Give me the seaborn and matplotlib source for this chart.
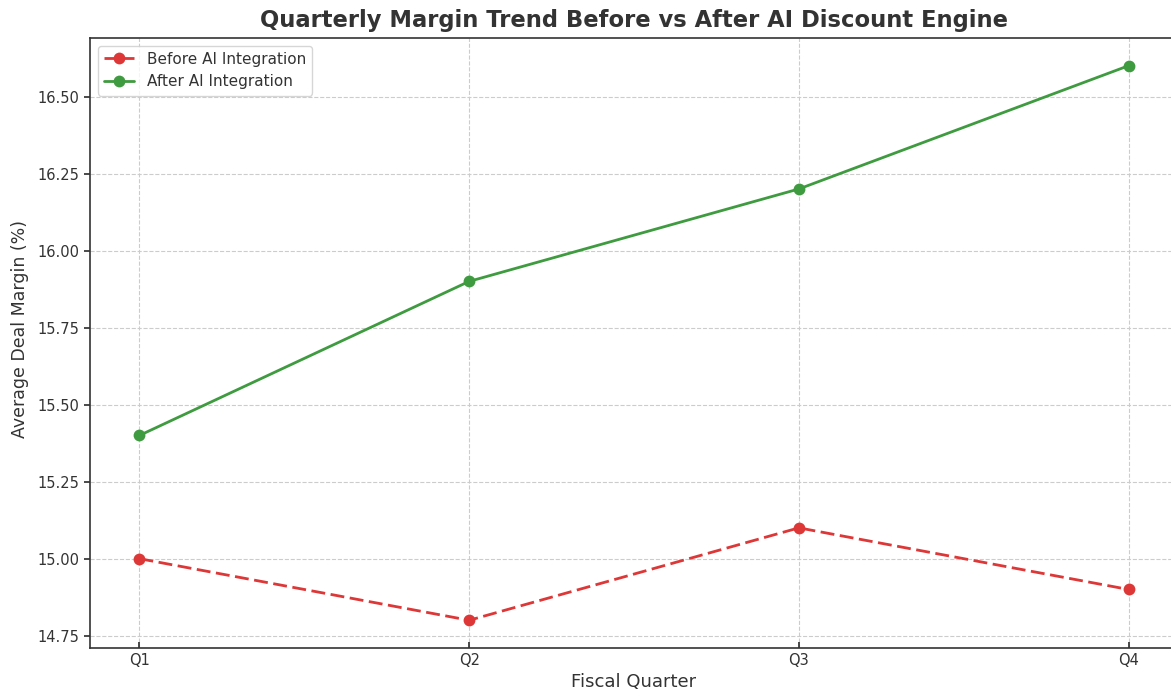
import matplotlib
matplotlib.use("Agg")
import matplotlib.pyplot as plt
import seaborn as sns
import pandas as pd

quarters = ["Q1", "Q2", "Q3", "Q4"]
before_ai = [15.0, 14.8, 15.1, 14.9]
after_ai = [15.4, 15.9, 16.2, 16.6]

df = pd.DataFrame({
    "Quarter": quarters * 2,
    "Margin": before_ai + after_ai,
    "Period": ["Before AI Integration"] * 4 + ["After AI Integration"] * 4,
})

sns.set_theme(style="whitegrid")
plt.rcParams["font.family"] = ["DejaVu Sans"]
text_color = "#333333"

fig = plt.figure(figsize=(11.71, 6.95), dpi=100)
ax = fig.add_axes([90 / 1171, 1 - 648 / 695, 1088 / 1171, 610 / 695])

palette = {"Before AI Integration": "#dd3737", "After AI Integration": "#3f9b3f"}
styles = {"Before AI Integration": (5, 2), "After AI Integration": ""}

sns.lineplot(
    data=df, x="Quarter", y="Margin", hue="Period", style="Period",
    palette=palette, dashes=styles, markers={"Before AI Integration": "o", "After AI Integration": "o"},
    markersize=8.5, markeredgewidth=0, linewidth=2, ax=ax, sort=False,
)

ax.set_title("Quarterly Margin Trend Before vs After AI Discount Engine",
             fontsize=16.3, fontweight="bold", color=text_color, pad=8)
ax.set_xlabel("Fiscal Quarter", fontsize=13, color=text_color)
ax.set_ylabel("Average Deal Margin (%)", fontsize=12.5, color=text_color)
ax.yaxis.set_label_coords(-0.056, 0.523)
ax.yaxis.set_major_formatter(matplotlib.ticker.FormatStrFormatter("%.2f"))
ax.set_yticks([14.75, 15.0, 15.25, 15.5, 15.75, 16.0, 16.25, 16.5])
ax.set_ylim(14.71, 16.69)
ax.set_xlim(-0.15, 3.15)

ax.grid(True, linestyle="--", color="#cccccc", linewidth=0.8)
for side in ["left", "bottom", "top"]:
    ax.spines[side].set_color("#333333")
    ax.spines[side].set_linewidth(1.2)
ax.spines["right"].set_visible(False)
ax.tick_params(axis="y", direction="out", length=4, labelsize=10.5, colors=text_color, left=True)
ax.tick_params(axis="x", direction="in", length=4, labelsize=10.5, colors=text_color, bottom=True)

leg = ax.legend(loc="upper left", fontsize=11, frameon=True, fancybox=True)
leg.get_frame().set_edgecolor("#cccccc")
for t in leg.get_texts():
    t.set_color(text_color)

fig.savefig("out.png", dpi=100)
